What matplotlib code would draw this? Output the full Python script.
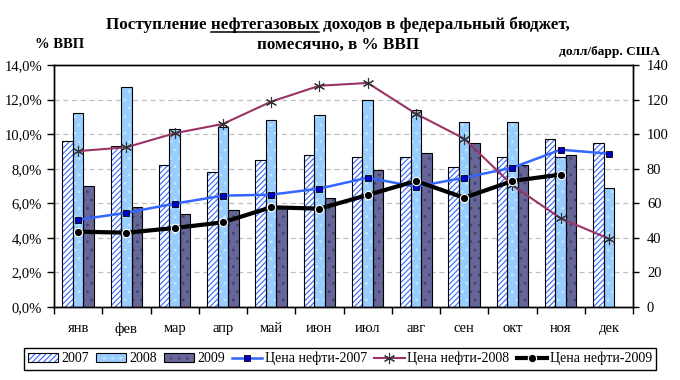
import numpy as np
import matplotlib
matplotlib.use("Agg")
import matplotlib.pyplot as plt
from matplotlib.patches import Patch
from matplotlib.lines import Line2D

months = ["янв", "фев", "мар", "апр", "май", "июн", "июл", "авг", "сен", "окт", "ноя", "дек"]
rev_2007 = [9.6, 9.3, 8.2, 7.8, 8.5, 8.8, 8.7, 8.7, 8.1, 8.7, 9.7, 9.5]
rev_2008 = [11.2, 12.7, 10.3, 10.4, 10.8, 11.1, 12.0, 11.4, 10.7, 10.7, 8.7, 6.9]
rev_2009 = [7.0, 5.8, 5.4, 5.6, 5.7, 6.3, 7.9, 8.9, 9.5, 8.2, 8.8]
oil_2007 = [50.5, 54.5, 59.8, 64.4, 65.0, 68.5, 74.8, 69.6, 74.8, 80.6, 91.0, 88.7]
oil_2008 = [90.2, 92.4, 100.5, 105.9, 118.8, 128.0, 129.6, 111.8, 97.4, 70.4, 51.3, 39.5]
oil_2009 = [43.6, 43.0, 45.7, 49.0, 57.7, 56.9, 64.8, 72.9, 63.2, 72.9, 76.6]

plt.rcParams['font.family'] = ['Liberation Serif', 'DejaVu Serif']
plt.rcParams['hatch.linewidth'] = 0.8

fig = plt.figure(figsize=(6.8, 3.8), dpi=100)
ax = fig.add_axes([0.0794, 0.192, 0.8516, 0.637])
ax2 = ax.twinx()

x = np.arange(12)
w = 0.218
c07 = "#3366ff"
c08 = "#99ccff"
c09 = "#666699"

# 2007: white with blue diagonal hatch, black outline
ax.bar(x - w, rev_2007, w, color="white", edgecolor=c07, hatch="//////", linewidth=0, zorder=2)
ax.bar(x - w, rev_2007, w, fill=False, edgecolor="black", linewidth=0.8, zorder=3)
ax.bar(x, rev_2008, w, color=c08, edgecolor="#bfe8ff", hatch="..", linewidth=0, zorder=2)
ax.bar(x, rev_2008, w, fill=False, edgecolor="black", linewidth=0.8, zorder=3)
x9 = x[:len(rev_2009)]
ax.bar(x9 + w, rev_2009, w, color=c09, edgecolor="#44446a", hatch="..", linewidth=0, zorder=2)
ax.bar(x9 + w, rev_2009, w, fill=False, edgecolor="black", linewidth=0.8, zorder=3)

ax2.plot(x, oil_2007, color=c07, lw=1.8, marker="s", ms=5, mfc="#0000cc", mec="black", mew=0.6)
ax2.plot(x, oil_2008, color="#993366", lw=1.5, marker=(6, 2, 0), ms=8, mec="#333333", mew=0.8)
ax2.plot(x[:len(oil_2009)], oil_2009, color="black", lw=3, marker="o", ms=6, mfc="black", mec="white", mew=0.8)

ax.set_xlim(-0.5, 11.5)
ax.set_ylim(0, 14)
ax2.set_ylim(0, 140)
ax.set_yticks(np.arange(0, 14.1, 2))
ax.set_yticklabels([f"{v:.1f}%".replace(".", ",") for v in np.arange(0, 14.1, 2)])
ax2.set_yticks(np.arange(0, 141, 20))
ax.set_xticks(x)
ax.set_xticklabels(months)
ax.tick_params(axis="x", which="major", length=0, pad=11)
ax.set_xticks(np.arange(-0.5, 12, 1), minor=True)
ax.tick_params(axis="x", which="minor", length=5, direction="out", width=1)
ax.tick_params(axis="y", length=5, width=1, labelsize=10.5)
ax2.tick_params(axis="y", length=4, width=1, labelsize=10.5, pad=6)
ax.tick_params(axis="x", labelsize=10.5)
for a in (ax, ax2):
    for s in a.spines.values():
        s.set_linewidth(1)
ax.set_axisbelow(True)
ax.yaxis.grid(True, color="#c0c0c0", linestyle=(0, (4, 3)), linewidth=0.9)

fig.text(0.051, 0.882, "% ВВП", fontsize=10.5, fontweight="bold", ha="left", va="center")
fig.text(0.971, 0.863, "долл/барр. США", fontsize=9.6, fontweight="bold", ha="right", va="center")

line1 = "Поступление нефтегазовых доходов в федеральный бюджет,"
ft = 12.3
t1 = fig.text(0.497, 0.934, line1, fontsize=ft, fontweight="bold", ha="center", va="center")
fig.text(0.497, 0.882, "помесячно, в % ВВП", fontsize=ft, fontweight="bold", ha="center", va="center")

# underline the word "нефтегазовых"
fig.canvas.draw()
r = fig.canvas.get_renderer()
bb = t1.get_window_extent(r)
def width_of(s):
    tt = fig.text(0, 0, s, fontsize=ft, fontweight="bold")
    wd = tt.get_window_extent(r).width
    tt.remove()
    return wd
x0 = bb.x0 + width_of("Поступление ")
x1 = bb.x0 + width_of("Поступление нефтегазовых")
yl = bb.y0 + 1.5
fig.add_artist(Line2D([x0 / 680, x1 / 680], [yl / 380, yl / 380], color="black", lw=1.1, transform=fig.transFigure))

h07 = (Patch(facecolor="white", edgecolor=c07, hatch="//////", linewidth=0),
       Patch(fill=False, edgecolor="black", linewidth=0.8))
h08 = (Patch(facecolor=c08, edgecolor="#bfe8ff", hatch="..", linewidth=0),
       Patch(fill=False, edgecolor="black", linewidth=0.8))
h09 = (Patch(facecolor=c09, edgecolor="#44446a", hatch="..", linewidth=0),
       Patch(fill=False, edgecolor="black", linewidth=0.8))
l07 = Line2D([], [], color=c07, lw=1.8, marker="s", ms=5, mfc="#0000cc", mec="black", mew=0.6)
l08 = Line2D([], [], color="#993366", lw=1.5, marker=(6, 2, 0), ms=8, mec="#333333", mew=0.8)
l09 = Line2D([], [], color="black", lw=3, marker="o", ms=6, mfc="black", mec="white", mew=0.8)
leg = fig.legend([h07, h08, h09, l07, l08, l09],
                 ["2007", "2008", "2009", "Цена нефти-2007", "Цена нефти-2008", "Цена нефти-2009"],
                 loc="center", bbox_to_anchor=(0.5, 0.056), ncol=6, fontsize=10,
                 frameon=True, fancybox=False, edgecolor="black", framealpha=1,
                 handlelength=2.2, handletextpad=0.2, columnspacing=0.5, borderpad=0.3)
leg.get_frame().set_linewidth(1)

fig.savefig("out.png", dpi=100)
